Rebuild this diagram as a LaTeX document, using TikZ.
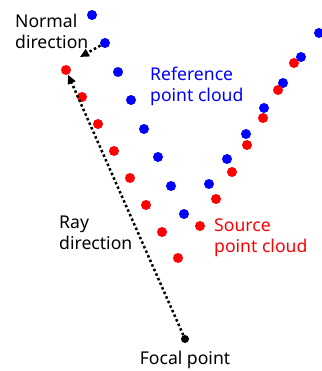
\documentclass[tikz,border=0pt]{standalone}
\usepackage{fontspec}
\setmainfont{Noto Sans}
\usetikzlibrary{arrows.meta,positioning}

\begin{document}
\begin{tikzpicture}[x=1pt, y=-1pt, >={Triangle[length=9pt,width=8pt]},
  cloudpt/.style={circle, inner sep=0pt, minimum size=10pt},
  label/.style={inner sep=0pt, align=left, font=\fontsize{17.6}{21}\selectfont},
  dotline/.style={line width=2.5pt, dash pattern=on 2.5pt off 2.5pt}
]
\useasboundingbox (0,0) rectangle (321,371);

% Reference point cloud (blue)
\foreach \x/\y [count=\i] in {92/15, 105/43, 118/72, 131/100, 144/129, 158/157,
    171/186, 184/214, 209/184, 227/159, 246/134, 264/108, 283/83, 301/57, 319/33}
  \node[cloudpt, fill=blue] (r\i) at (\x,\y) {};

% Source point cloud (red)
\foreach \x/\y [count=\i] in {66/70, 82/97, 98/124, 114/151, 130/178, 146/205,
    162/232, 178/258, 200/226, 216/199, 232/172, 247/145, 263/118, 278/90, 294/63}
  \node[cloudpt, fill=red] (s\i) at (\x,\y) {};

\node[circle, fill=black, inner sep=0pt, minimum size=8pt] (focal) at (185,339) {};
\coordinate (ntip) at (80,57);

\draw[dotline, ->] (focal) -- (s1);
\draw[dotline, ->] (r2) -- (ntip);

% Labels
\node[label, anchor=west] (nlab) at (15,31) {Normal\\direction};
\node[label, anchor=west, text=blue] (rlab) at (150,86) {Reference\\point cloud};
\node[label, anchor=west, text=red] (slab) at (214,238) {Source\\point cloud};
\node[label, anchor=west] (raylab) at (59,233) {Ray\\direction};
\node[label, below=8pt of focal] (flab) {Focal point};
\end{tikzpicture}
\end{document}
